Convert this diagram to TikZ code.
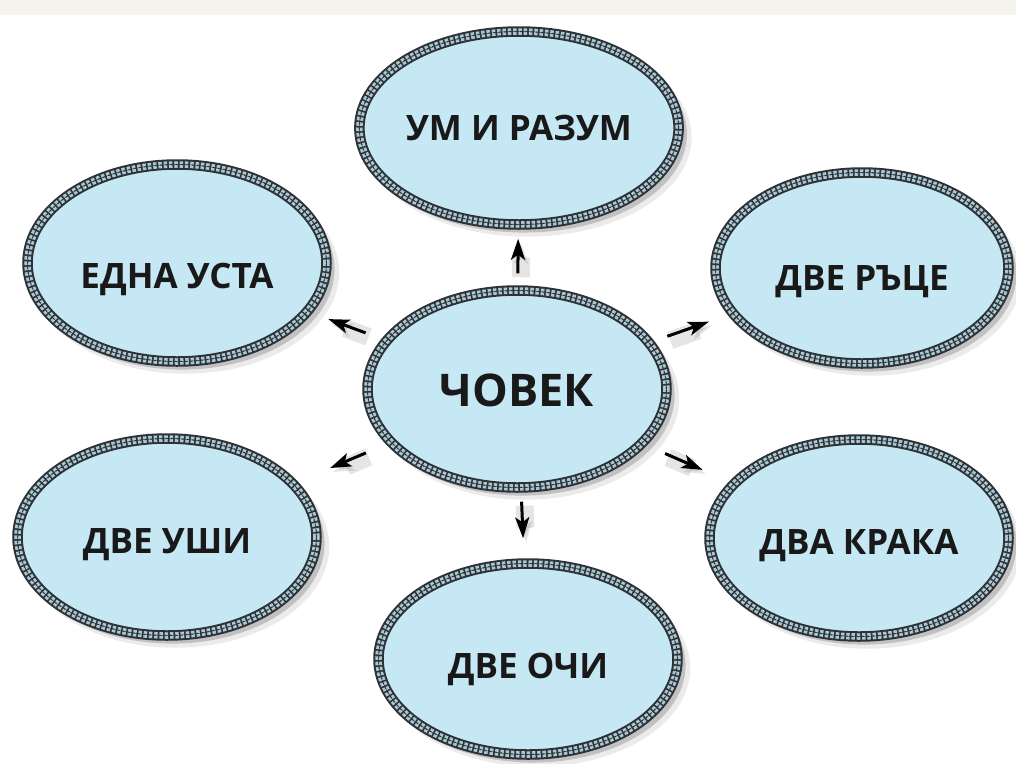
\documentclass[tikz,border=0pt]{standalone}
\usepackage{fontspec}
\setmainfont{Open Sans}
\usetikzlibrary{shapes.geometric, arrows.meta, shadows}

\definecolor{skyfill}{HTML}{C6E8F5}
\definecolor{rimdark}{HTML}{2E3236}
\definecolor{rimpale}{HTML}{A9C8D4}
\definecolor{paper}{HTML}{F4F3EC}

\begin{document}
\begin{tikzpicture}[x=1pt, y=-1pt, thick,
    oval/.style={ellipse, fill=skyfill, draw=rimdark, line width=10.5pt,
      minimum width=299pt, minimum height=197pt, inner sep=0pt,
      font=\bfseries\fontsize{35}{40}\selectfont, text=black!90,
      text height=33pt, text depth=0pt,
      drop shadow={shadow xshift=8pt, shadow yshift=-9pt, shadow scale=1.03, opacity=0.08, fill=black},
      drop shadow={shadow xshift=5pt, shadow yshift=-6pt, shadow scale=1.02, opacity=0.18, fill=black},
      postaction={draw=rimpale, line width=6.5pt, dash pattern=on 3.5pt off 1.8pt},
      postaction={draw=rimdark, line width=1pt, dash pattern=on 1.8pt off 3.5pt},
      postaction={draw=rimdark, line width=0.5pt}},
    arrow/.style={-{Stealth[length=21pt, width=14pt, inset=5pt]}, line width=3pt,
      preaction={draw=black, opacity=0.10, line width=18pt, transform canvas={xshift=3pt, yshift=-4pt}}}]

    \useasboundingbox (0,0) rectangle (1016,763);
    \fill[paper] (0,0) rectangle (1016,15);

    % Nodes
    \node[oval, font=\bfseries\fontsize{45}{50}\selectfont, text height=34pt] (man) at (517,389) {ЧОВЕК};
    \node[oval, minimum width=287pt, minimum height=193pt, text height=25pt] (mind) at (519,128) {УМ И РАЗУМ};
    \node[oval, text height=50pt] (mouth) at (177,263) {ЕДНА УСТА};
    \node[oval, minimum width=293pt, minimum height=191pt, text height=44pt] (hands) at (862,268) {ДВЕ РЪЦЕ};
    \node[oval] (ears) at (167,537) {ДВЕ УШИ};
    \node[oval] (legs) at (859,538) {ДВА КРАКА};
    \node[oval, minimum height=191pt, text height=39pt] (eyes) at (528,659) {ДВЕ ОЧИ};

    % Arrows
    \draw[arrow, shorten <=12pt, shorten >=9pt] (man) -- (mind);
    \draw[arrow, shorten <=17pt, shorten >=17pt] (man) -- (mouth);
    \draw[arrow, shorten <=14pt, shorten >=20pt] (man) -- (hands);
    \draw[arrow, shorten <=22pt, shorten >=35pt] (man) -- (ears);
    \draw[arrow, shorten <=20pt, shorten >=29pt] (man) -- (legs);
    \draw[arrow, shorten <=9pt, shorten >=20pt] (man) -- (eyes);
\end{tikzpicture}
\end{document}
